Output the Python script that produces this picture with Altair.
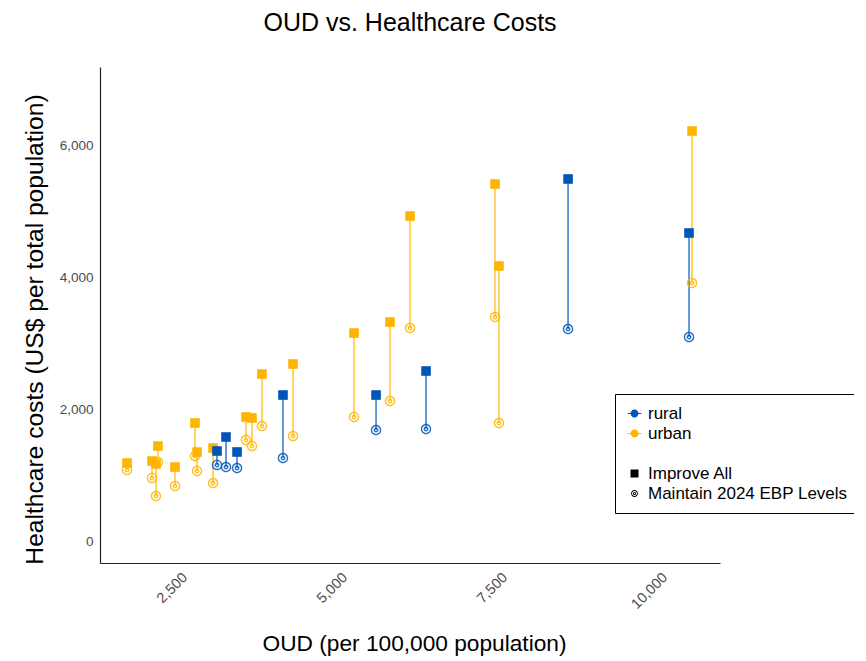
import altair as alt
import pandas as pd

# ---- data ----
region = ["urban", "urban", "urban", "urban", "urban", "urban", "urban", "urban",
          "rural", "rural", "rural", "urban", "urban", "urban", "rural", "urban",
          "urban", "rural", "urban", "urban", "rural", "urban", "urban", "rural",
          "rural", "urban"]
oud = [1672, 2062, 2156, 2125, 2422, 2734, 2766, 3016,
       3078, 3219, 3391, 3531, 3625, 3781, 4109, 4266,
       5219, 5563, 5781, 6094, 6344, 7422, 7484, 8563,
       10453, 10500]
improve_all = [1182, 1212, 1439, 1167, 1121, 1788, 1348, 1409,
               1364, 1576, 1349, 1879, 1864, 2530, 2212, 2682,
               3151, 2212, 3318, 4924, 2576, 5409, 4167, 5485,
               4667, 6212]
maintain = [1076, 955, 1197, 682, 833, 1288, 1061, 879,
            1152, 1121, 1106, 1530, 1439, 1742, 1257, 1591,
            1879, 1682, 2121, 3227, 1697, 3394, 1788, 3212,
            3091, 3909]

x_ticks = [2500, 5000, 7500, 10000]
y_ticks = [0, 2000, 4000, 6000]

legend_keys = ["rural", "urban", " ", "Improve All", "Maintain 2024 EBP Levels"]

RURAL = "#0055B8"
URBAN = "#FFB500"
palette = {"rural": RURAL, "urban": URBAN}

def circle(r, cw=True):
    s = 1 if cw else 0
    return f"M{r},0A{r},{r},0,1,{s},{-r},0A{r},{r},0,1,{s},{r},0Z"

RING = circle(1) + circle(0.74, False) + circle(0.46) + circle(0.2, False)
RING_LEG = circle(0.85) + circle(0.62, False) + circle(0.4) + circle(0.18, False)
DOT_LINE = "M-1.7,-0.13L1.7,-0.13L1.7,0.13L-1.7,0.13Z" + circle(1)

leg_colors = [RURAL, URBAN, "#FFFFFF", "#000000", "#000000"]
leg_shapes = [DOT_LINE, DOT_LINE, "circle", "square", RING_LEG]

df = pd.DataFrame({"region": region, "oud": oud,
                   "improve": improve_all, "maintain": maintain})
df["col"] = df["region"].map(palette)
legend_df = pd.DataFrame({"key": legend_keys})

FONT = "Liberation Sans"

xs = alt.Scale(domain=[1250, 10937], nice=False, zero=False)
ys = alt.Scale(domain=[-333, 7182], nice=False, zero=False)

xaxis = alt.Axis(title="OUD (per 100,000 population)", values=x_ticks, format=",d",
                 labelAngle=-45, labelAlign="right", labelBaseline="top",
                 labelPadding=7, ticks=False, grid=False, domainColor="#222222",
                 domainWidth=1.2, labelColor="#4d4d4d", labelFontSize=14.5,
                 titleFontSize=22.7, titleFontWeight="normal", titleColor="black",
                 titleX=314, titleY=80, titleBaseline="middle", labelFont=FONT,
                 titleFont=FONT)
yaxis = alt.Axis(title="Healthcare costs (US$ per total population)", values=y_ticks,
                 format=",d", ticks=False, grid=False, labelPadding=7,
                 domainColor="#222222", domainWidth=1.2, labelColor="#4d4d4d",
                 labelFontSize=13.5, titleFontSize=24.6, titleFontWeight="normal",
                 titleColor="black", titleX=-65, titleY=262, titleBaseline="middle",
                 labelFont=FONT, titleFont=FONT)

base = alt.Chart(df)

rules = base.mark_rule(strokeWidth=1.6, opacity=0.75).encode(
    x=alt.X("oud:Q", scale=xs, axis=xaxis),
    y=alt.Y("improve:Q", scale=ys, axis=yaxis),
    y2="maintain:Q",
    color=alt.Color("col:N", scale=None),
)

circles = base.mark_point(shape=RING, filled=True, size=110, opacity=0.85).encode(
    x=alt.X("oud:Q", scale=xs),
    y=alt.Y("maintain:Q", scale=ys),
    color=alt.Color("col:N", scale=None),
)

squares = base.mark_point(shape="square", filled=True, size=92, opacity=1).encode(
    x=alt.X("oud:Q", scale=xs),
    y=alt.Y("improve:Q", scale=ys),
    color=alt.Color("col:N", scale=None),
)

leg = alt.Legend(title=None, orient="none", legendX=515, legendY=327, padding=11,
                 strokeColor="black", fillColor="white",
                 labelFontSize=17, labelFont=FONT, labelColor="black", labelLimit=400,
                 symbolSize=64, rowPadding=2, labelOffset=5, symbolOpacity=1,
                 symbolStrokeWidth=0)

legend_layer = alt.Chart(legend_df).transform_filter("false").mark_point(filled=True).encode(
    color=alt.Color("key:N", scale=alt.Scale(domain=legend_keys, range=leg_colors), legend=leg),
    shape=alt.Shape("key:N", scale=alt.Scale(domain=legend_keys, range=leg_shapes), legend=leg),
)

chart = alt.layer(rules, circles, squares, legend_layer).resolve_scale(
    color="independent", shape="independent"
).properties(
    width=620, height=496,
    padding={"left": 92, "top": 59, "right": 134, "bottom": 95},
    autosize=alt.AutoSizeParams(type="none"),
    title=alt.Title("OUD vs. Healthcare Costs", fontSize=25, fontWeight="normal",
                    font=FONT, anchor="middle", frame="group", baseline="top",
                    offset=31, color="black"),
).configure(font=FONT).configure_view(stroke=None).configure_legend(strokeWidth=1)

chart.save("out.html", embed_options={"renderer": "svg", "actions": False})
